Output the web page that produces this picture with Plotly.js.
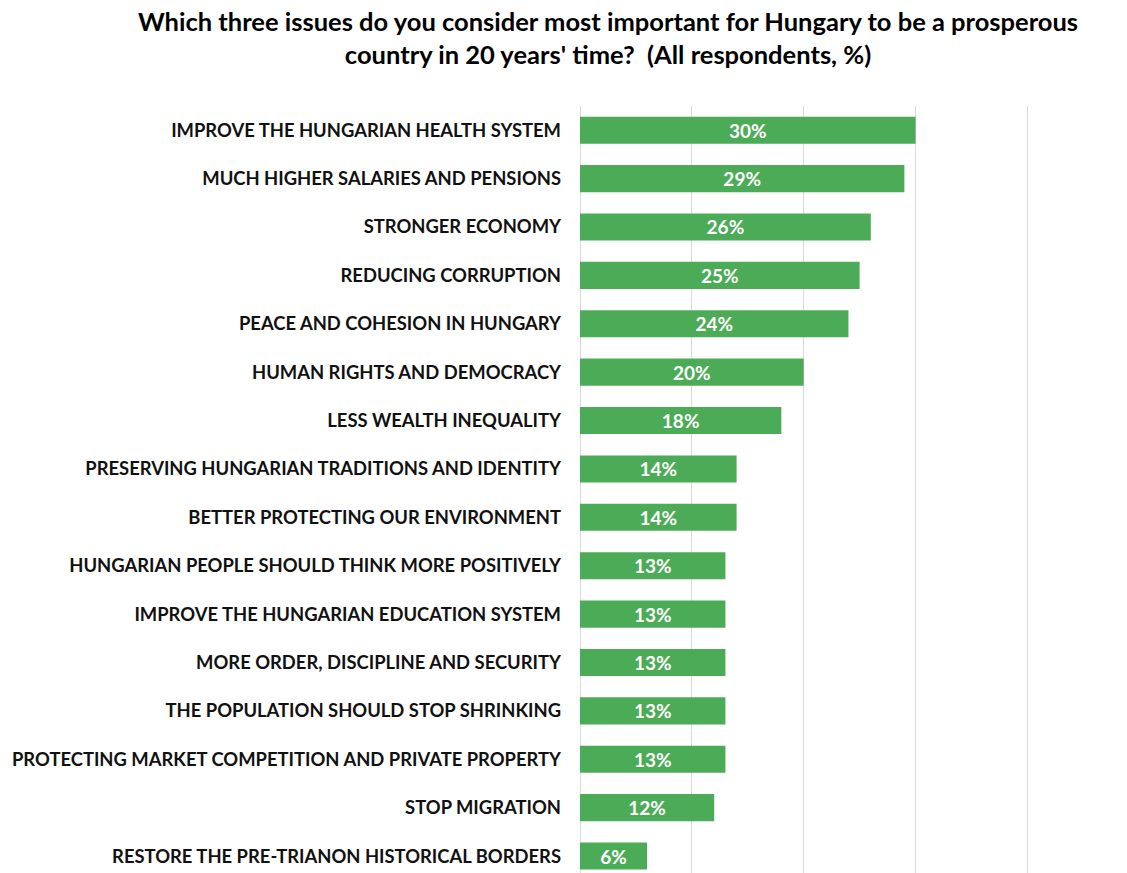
<!DOCTYPE html>
<html>
<head>
<meta charset="utf-8">
<script src="https://cdn.plot.ly/plotly-3.0.1.min.js"></script>
<style>html,body{margin:0;padding:0;background:#fff;}</style>
</head>
<body>
<div id="chart" style="width:1127px;height:873px;"></div>
<script>
const categories = [
  "IMPROVE THE HUNGARIAN HEALTH SYSTEM",
  "MUCH HIGHER SALARIES AND PENSIONS",
  "STRONGER ECONOMY",
  "REDUCING CORRUPTION",
  "PEACE AND COHESION IN HUNGARY",
  "HUMAN RIGHTS AND DEMOCRACY",
  "LESS WEALTH INEQUALITY",
  "PRESERVING HUNGARIAN TRADITIONS AND IDENTITY",
  "BETTER PROTECTING OUR ENVIRONMENT",
  "HUNGARIAN PEOPLE SHOULD THINK MORE POSITIVELY",
  "IMPROVE THE HUNGARIAN EDUCATION SYSTEM",
  "MORE ORDER, DISCIPLINE AND SECURITY",
  "THE POPULATION SHOULD STOP SHRINKING",
  "PROTECTING MARKET COMPETITION AND PRIVATE PROPERTY",
  "STOP MIGRATION",
  "RESTORE THE PRE-TRIANON HISTORICAL BORDERS"
];
const values = [30, 29, 26, 25, 24, 20, 18, 14, 14, 13, 13, 13, 13, 13, 12, 6];
const valueLabels = values.map(v => v + "%");
const titleText = "Which three issues do you consider most important for Hungary to be a prosperous<br>country in 20 years' time?  (All respondents, %)";

const trace = {
  type: "bar",
  orientation: "h",
  x: values,
  y: categories,
  text: valueLabels,
  textposition: "inside",
  insidetextanchor: "middle",
  constraintext: "none",
  textfont: {family: "Lato, 'Open Sans', sans-serif", size: 19, color: "#ffffff", weight: "bold"},
  marker: {color: "#4cab57"},
  hoverinfo: "none"
};

const layout = {
  width: 1127,
  height: 873,
  paper_bgcolor: "#ffffff",
  plot_bgcolor: "#ffffff",
  margin: {l: 580, r: 94, t: 106, b: 0},
  bargap: 0.44,
  showlegend: false,
  font: {family: "Lato, 'Open Sans', sans-serif", color: "#111111"},
  title: {
    text: titleText,
    font: {family: "Lato, 'Open Sans', sans-serif", size: 25.5, color: "#000000", weight: "bold"},
    x: 0.5395, xanchor: "center", xref: "container",
    y: 0.9645, yanchor: "middle", yref: "container"
  },
  xaxis: {
    range: [0, 40.5],
    showticklabels: false,
    showgrid: true,
    gridcolor: "#d9d9d9",
    gridwidth: 1,
    dtick: 10,
    tick0: 0,
    zeroline: true,
    zerolinecolor: "#d9d9d9",
    zerolinewidth: 1,
    showline: false,
    ticks: ""
  },
  yaxis: {
    type: "category",
    autorange: false,
    range: [15.35, -0.5],
    showgrid: false,
    zeroline: false,
    showline: false,
    ticks: "",
    ticklabelstandoff: 18,
    tickfont: {family: "Lato, 'Open Sans', sans-serif", size: 18.4, color: "#111111", weight: "bold"}
  }
};

Plotly.newPlot("chart", [trace], layout, {displayModeBar: false, staticPlot: true});
</script>
</body>
</html>
